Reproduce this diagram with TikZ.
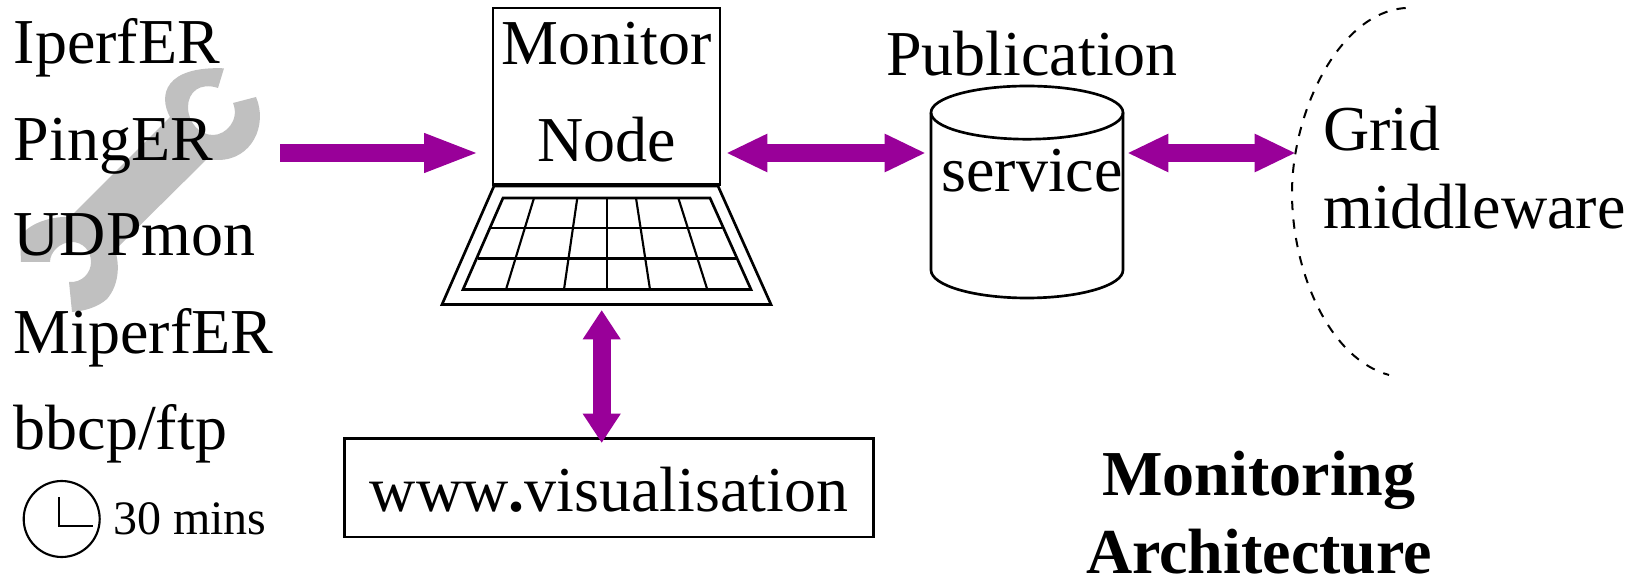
\documentclass[tikz,border=0pt]{standalone}
\usepackage{fontspec}
\setmainfont{Liberation Serif}
\usetikzlibrary{arrows.meta}
\definecolor{arrowpurple}{HTML}{990099}
\definecolor{wrenchgrey}{HTML}{C0C0C0}
\tikzset{
  lbl/.style={anchor=base west,inner sep=0pt,font=\fontsize{48}{48}\selectfont},
  lblc/.style={anchor=base,inner sep=0pt,font=\fontsize{48}{48}\selectfont},
  ttl/.style={anchor=base,inner sep=0pt,font=\fontsize{48}{48}\selectfont\bfseries},
  outline/.style={draw=black,line width=2pt},
  thin outline/.style={draw=black,line width=1.6pt},
  oneway/.style={draw=arrowpurple,line width=13.9pt,-{Triangle[length=42pt,width=26.5pt,color=arrowpurple]}},
  twoway/.style={draw=arrowpurple,line width=13.9pt,{Triangle[length=31pt,width=26.5pt,color=arrowpurple]}-{Triangle[length=31pt,width=26.5pt,color=arrowpurple]}},
  vertway/.style={draw=arrowpurple,line width=13.5pt,{Triangle[length=22pt,width=27pt,color=arrowpurple]}-{Triangle[length=22pt,width=27pt,color=arrowpurple]}},
}
\begin{document}
\begin{tikzpicture}[x=0.75pt,y=-0.75pt]
\useasboundingbox (0,0) rectangle (1641,577);
% wrench
\fill[wrenchgrey] (224,68.3) -- (218,88) .. controls (200,82) and (188,92) .. (188,107)
  .. controls (188,123) and (200,135) .. (213,135)
  .. controls (226,135) and (240,120) .. (233,103)
  -- (256,97) .. controls (268,125) and (252,160) .. (218,160)
  .. controls (213,160) and (210,160) .. (207,159)
  -- (115,250) .. controls (120,265) and (119,285) .. (107,299)
  .. controls (98,307) and (85,311) .. (72,312)
  -- (69,282) .. controls (82,283) and (91,273) .. (91,262)
  .. controls (91,250) and (82,242) .. (72,242)
  .. controls (60,242) and (50,252) .. (50,262)
  -- (21,262) -- (20,237) .. controls (28,224) and (50,216) .. (70,217)
  -- (170,117) .. controls (158,95) and (165,66) .. (224,68.3) -- cycle;
% left column
\node[lbl] (iperf) at (13.5,64) {IperfER};
\node[lbl] (ping) at (13.5,161) {PingER};
\node[lbl] (udp) at (13.5,256) {UDPmon};
\node[lbl] (miperf) at (13.5,353) {MiperfER};
\node[lbl] (bbcp) at (13.5,449) {bbcp/ftp};
% clock
\node[circle,thin outline,minimum size=57pt,inner sep=0pt] (clock) at (61.7,519) {};
\draw[thin outline] (59.3,497) -- (59.3,526) -- (93,526);
\node[anchor=base west,inner sep=0pt,font=\fontsize{36}{36}\selectfont] (mins) at (113,534) {30 mins};
% monitor
\node[outline,minimum width=170.2pt,minimum height=132.4pt,inner sep=0pt] (monitor) at (606.5,96.2) {};
\node[lblc] (montext) at (606.7,65) {Monitor};
\node[lblc] (nodetext) at (606.7,162) {Node};
% laptop base
\draw[outline] (494,186) -- (718,186) -- (771,304.5) -- (442,304.5) -- cycle;
\draw[outline] (503,198) -- (710,198) -- (751,289.5) -- (463,289.5) -- cycle;
\draw[thin outline] (491,228) -- (722,228);
\draw[thin outline] (477.5,258.5) -- (736,258.5);
\foreach \t/\b in {534/506,577.3/564,606.7/606.7,636/650,678.3/707.3}
  \draw[line width=1.6pt] (\t,198) -- (\b,289.5);
% visualisation
\node[outline,minimum width=397pt,minimum height=74pt,inner sep=0pt] (www) at (609,487.8) {};
\node[lblc] (wwwtext) at (609,511) {www{\bfseries .}visualisation};
% cylinder
\draw[outline] (931,112.6) arc[start angle=180,end angle=0,x radius=96,y radius=26.6]
  arc[start angle=360,end angle=180,x radius=96,y radius=26.6];
\draw[outline] (931,112.6) -- (931,270)
  arc[start angle=180,end angle=0,x radius=96,y radius=28] -- (1123,112.6);
\node[lblc] (pub) at (1032,76) {Publication};
\node[lblc] (service) at (1032,192) {service};
% grid
\draw[black,line width=1.5pt,dash pattern=on 7pt off 7pt] (1405.7,8) .. controls (1340,12) and (1292,110) .. (1292,193)
  .. controls (1292,270) and (1328,358) .. (1389,375);
\node[lbl] (grid) at (1323,151) {Grid};
\node[lbl] (mw) at (1323,229) {middleware};
% title
\node[ttl] (t1) at (1259,495) {Monitoring};
\node[ttl] (t2) at (1259,573) {Architecture};
% connector ends
\coordinate (tool) at (280,153);
\coordinate (monw) at (480,153);
\coordinate (mone) at (726,153);
\coordinate (pubw) at (926,153);
\coordinate (pube) at (1127,153);
\coordinate (gridw) at (1296,153);
\coordinate (mons) at (601.7,310);
\coordinate (wwwn) at (601.7,443);
\draw[oneway] (tool) -- (monw);
\draw[twoway] (mone) -- (pubw);
\draw[twoway] (pube) -- (gridw);
\draw[vertway] (mons) -- (wwwn);
\end{tikzpicture}
\end{document}
